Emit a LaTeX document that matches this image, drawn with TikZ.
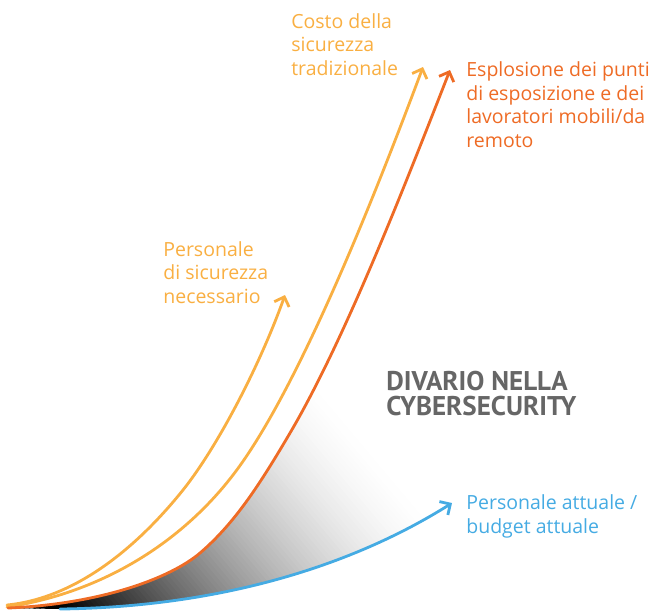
\documentclass[tikz,border=0pt]{standalone}
\usepackage{fontspec}
\setmainfont{Open Sans}
\newfontfamily\headfont{PT Sans}
\usetikzlibrary{arrows.meta}
\definecolor{costo}{HTML}{F9AF42}
\definecolor{esplo}{HTML}{EE6B25}
\definecolor{attuale}{HTML}{45ABE3}
\definecolor{divario}{HTML}{666666}
\tikzset{
	curva/.style={line width=1.6pt, line cap=round,
		-{Straight Barb[length=4.5pt,width=9pt]}},
	testo/.style={anchor=base west, inner sep=0pt, align=left,
		font=\fontsize{11.1}{13.3}\selectfont},
}
\begin{document}
\begin{tikzpicture}[x=0.02cm, y=-0.02cm]
		\useasboundingbox (0,0) rectangle (651,610);
		%start and tips
		\coordinate (oA) at (7,605);
		\coordinate (oB) at (7,607);
		\coordinate (oC) at (8,608);
		\coordinate (oD) at (60,609);
		\coordinate (tipA) at (285,295);
		\coordinate (tipB) at (423,67);
		\coordinate (tipC) at (450,70);
		\coordinate (tipD) at (452,503);
		
		%gap shading
		\begin{scope}
			\clip (oC) .. controls (100,604) and (170,578.5) .. (200,553)
				.. controls (235,523) and (260,484) .. (290,433)
				.. controls (345,339.5) and (405,185) .. (tipC)
				-- (tipD) .. controls (352,566) and (220,607) .. (oD) -- cycle;
			\begin{scope}[shift={(60,608)}, rotate=40]
				\foreach \d in {-100,-96,...,350}{
					\pgfmathsetmacro\g{min(100,100*max(0.001,1-\d/340)^1.6)}
					\fill[black!\g] (\d,-400) rectangle (\d+5,400);
				}
			\end{scope}
		\end{scope}
		
		%curves
		\draw[curva, costo] (oA) .. controls (77,598) and (138,546) .. (183,490)
			.. controls (218,446) and (260,365) .. (tipA);
		\draw[curva, costo] (oB) .. controls (97,593.5) and (178,546.5) .. (233,475)
			.. controls (300,388) and (380,182) .. (tipB);
		\draw[curva, esplo] (oC) .. controls (100,604) and (170,578.5) .. (200,553)
			.. controls (235,523) and (260,484) .. (290,433)
			.. controls (345,339.5) and (405,185) .. (tipC);
		\draw[curva, attuale] (oD) .. controls (220,607) and (352,566) .. (tipD);
		
		%labels
		\node[testo, text=costo] (costo) at (291,75) {Costo della\\sicurezza\\tradizionale};
		\node[testo, text=esplo] (esplosione) at (466,147) {Esplosione dei punti\\di esposizione e dei\\lavoratori mobili/da\\remoto};
		\node[testo, text=costo] (necessario) at (163,303) {Personale\\di sicurezza\\necessario};
		\node[testo, text=divario, font=\headfont\bfseries\fontsize{15.4}{13.8}\selectfont] (divario) at (386,415) {DIVARIO NELLA\\CYBERSECURITY};
		\node[testo, text=attuale] (attuale) at (466,533) {Personale attuale /\\budget attuale};
\end{tikzpicture}
\end{document}
